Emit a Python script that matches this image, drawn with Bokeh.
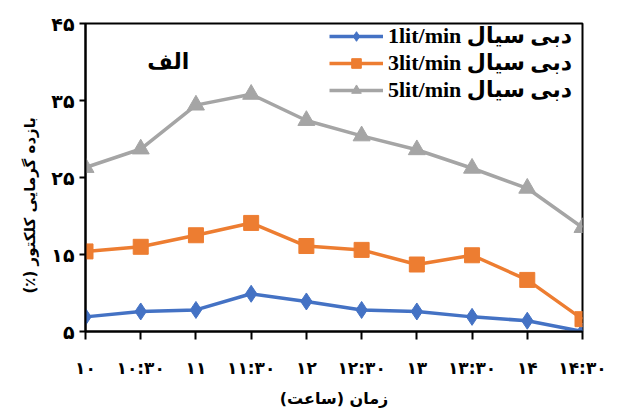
from bokeh.plotting import figure
from bokeh.models import Range1d, FixedTicker, Legend, LegendItem, Label, Title
from bokeh.embed import file_html
from bokeh.resources import INLINE

# ---- data ----
times = [10, 10.5, 11, 11.5, 12, 12.5, 13, 13.5, 14, 14.5]
time_labels = ["۱۰", "۱۰:۳۰", "۱۱", "۱۱:۳۰", "۱۲", "۱۲:۳۰", "۱۳", "۱۳:۳۰", "۱۴", "۱۴:۳۰"]
flow_1 = [6.9, 7.6, 7.8, 9.9, 8.9, 7.8, 7.6, 6.9, 6.4, 5.0]
flow_3 = [15.4, 16.0, 17.5, 19.1, 16.1, 15.6, 13.7, 14.9, 11.7, 6.6]
flow_5 = [26.3, 28.7, 34.4, 35.8, 32.4, 30.4, 28.6, 26.2, 23.6, 18.5]
y_ticks = [5, 15, 25, 35, 45]
y_tick_labels = ["۵", "۱۵", "۲۵", "۳۵", "۴۵"]
series_names = ["1lit/min دبی سیال", "3lit/min دبی سیال", "5lit/min دبی سیال"]
x_title = "زمان (ساعت)\u200f"
y_title = "بازده گرمایی کلکتور (٪)\u200f"
panel_tag = "الف"

FONT = "Liberation Serif, DejaVu Sans"
PFONT = "DejaVu Sans"

p = figure(width=609, height=410, x_range=Range1d(10, 14.5), y_range=Range1d(5, 45),
           output_backend="svg", toolbar_location=None,
           min_border_left=85, min_border_right=27, min_border_top=23, min_border_bottom=76)

p.xgrid.visible = False
p.ygrid.visible = False
p.outline_line_color = "black"
p.outline_line_width = 2
p.background_fill_color = "white"
p.border_fill_color = "white"

# axes
p.xaxis.ticker = FixedTicker(ticks=times)
p.xaxis.major_label_overrides = {t: l for t, l in zip(times, time_labels)}
p.yaxis.ticker = FixedTicker(ticks=y_ticks)
p.yaxis.major_label_overrides = {t: l for t, l in zip(y_ticks, y_tick_labels)}
for ax in (p.xaxis[0], p.yaxis[0]):
    ax.axis_line_color = "black"
    ax.axis_line_width = 2
    ax.major_tick_line_color = "black"
    ax.major_tick_line_width = 2
    ax.major_tick_in = 0
    ax.minor_tick_line_color = None
    ax.major_label_text_font = PFONT
    ax.major_label_text_font_style = "bold"
    ax.major_label_text_font_size = "17px"
    ax.major_label_text_color = "black"
p.yaxis.major_label_text_font_size = "19px"
p.xaxis.major_tick_out = 8
p.yaxis.major_tick_out = 6
p.xaxis.major_label_standoff = 18
p.yaxis.major_label_standoff = 5

p.xaxis.axis_label = x_title
p.xaxis.axis_label_text_font = PFONT
p.xaxis.axis_label_text_font_style = "bold"
p.xaxis.axis_label_text_font_size = "16px"
p.xaxis.axis_label_text_color = "black"
p.xaxis.axis_label_standoff = 8

p.add_layout(Title(text=y_title, align="left", offset=38, text_font=PFONT,
                   text_font_style="bold", text_font_size="15px", text_color="black",
                   standoff=20), "left")

colors = ["#4472C4", "#ED7D31", "#A5A5A5"]
markers = ["diamond", "square", "triangle"]
sizes = [17, 15, 17]
items = []
for ys, c, m, s, name in zip([flow_1, flow_3, flow_5], colors, markers, sizes, series_names):
    r1 = p.line(times, ys, line_color=c, line_width=3.5)
    r2 = p.scatter(times, ys, marker=m, size=s, fill_color=c, line_color=c)
    items.append(LegendItem(label=name, renderers=[r1, r2]))

legend = Legend(items=items, location=(244, 228), background_fill_alpha=0,
                border_line_color=None, label_text_font=FONT, label_text_font_style="bold",
                label_text_font_size="22px", label_text_color="black",
                glyph_width=54, glyph_height=24, label_height=20, spacing=1,
                label_standoff=5, padding=0, margin=0)
p.add_layout(legend)

p.add_layout(Label(x=10.75, y=40.1, text=panel_tag, text_align="center", text_baseline="middle",
                   text_font=PFONT, text_font_style="bold", text_font_size="22px",
                   text_color="black"))

open("out.html", "w").write(file_html(p, INLINE))
